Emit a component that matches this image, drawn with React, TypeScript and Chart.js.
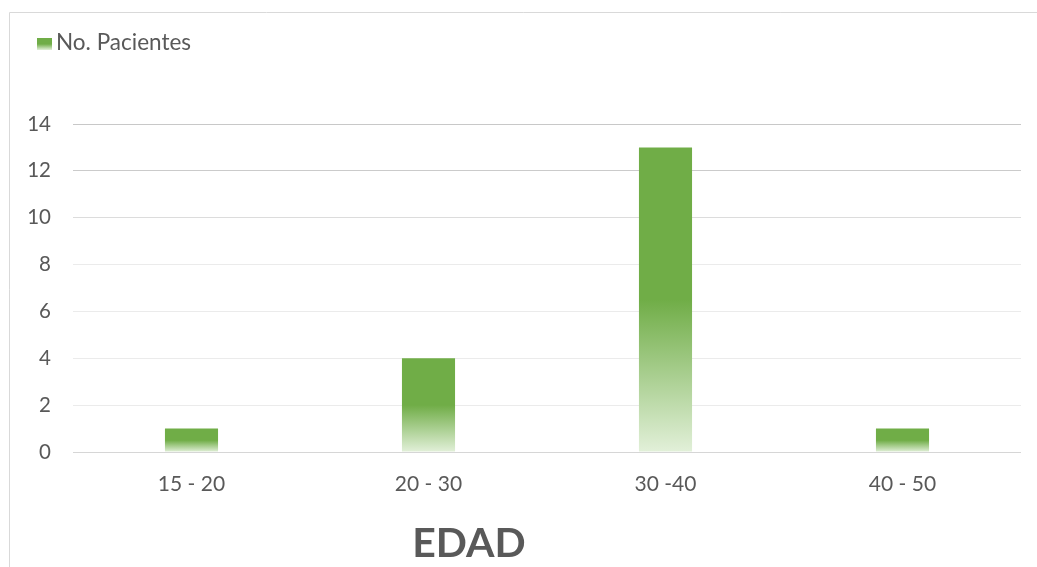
import { useEffect, useRef } from 'react';
import { Chart, registerables } from 'chart.js';

Chart.register(...registerables);

// Age groups and number of patients in each
const categories = ['15 - 20', '20 - 30', '30 -40', '40 - 50'];
const patients = [1, 4, 13, 1];
const seriesLabel = 'No. Pacientes';
const axisTitle = 'EDAD';
const yMin = 0;
const yMax = 14;
const yStep = 2;

const GREEN = '#70AD47';
const PALE = '#E2F0D9';
const TEXT = '#595959';
const FONT = 'Lato, "Open Sans", sans-serif';

// Solid green over the upper half of a bar, fading to pale green at its base
function fadeFill(ctx: CanvasRenderingContext2D, top: number, bottom: number) {
  const g = ctx.createLinearGradient(0, top, 0, bottom);
  g.addColorStop(0, GREEN);
  g.addColorStop(0.5, GREEN);
  g.addColorStop(1, PALE);
  return g;
}

const gridColor = (value: number) => {
  if (value === 14) return '#c8c8c8';
  if (value === 12) return '#cbcbcb';
  if (value === 10) return '#dcdcdc';
  if (value === 0) return '#d6d6d6';
  return '#ebebeb';
};

// Thin frame along the top and left edges
const framePlugin = {
  id: 'frame',
  beforeDraw(chart: any) {
    const { ctx, width, height } = chart;
    ctx.save();
    ctx.strokeStyle = '#d9d9d9';
    ctx.lineWidth = 1;
    ctx.beginPath();
    ctx.moveTo(9.5, height);
    ctx.lineTo(9.5, 12.5);
    ctx.lineTo(width, 12.5);
    ctx.stroke();
    ctx.restore();
  },
};

// Legend entry in the top-left corner and the category axis title below the labels
const decorPlugin = {
  id: 'decor',
  afterDraw(chart: any) {
    const { ctx } = chart;
    const ds = chart.data.datasets[0];
    ctx.save();
    ctx.fillStyle = fadeFill(ctx, 38, 50);
    ctx.fillRect(37, 38, 15, 12);
    ctx.fillStyle = TEXT;
    ctx.font = `22.5px ${FONT}`;
    ctx.textAlign = 'left';
    ctx.textBaseline = 'alphabetic';
    ctx.fillText(ds.label, 56, 50);

    ctx.font = `bold 41px ${FONT}`;
    ctx.textAlign = 'center';
    ctx.fillText(axisTitle, 469, 557);
    ctx.restore();
  },
};

export default function App() {
  const canvasRef = useRef<HTMLCanvasElement | null>(null);

  useEffect(() => {
    const canvas = canvasRef.current;
    if (!canvas) return;
    const chart = new Chart(canvas, {
      type: 'bar',
      data: {
        labels: categories,
        datasets: [
          {
            label: seriesLabel,
            data: patients,
            backgroundColor: (c: any) => {
              const ch = c.chart;
              if (!ch.chartArea || c.type !== 'data') return GREEN;
              const y = ch.scales.y;
              return fadeFill(ch.ctx, y.getPixelForValue(c.parsed.y), y.getPixelForValue(0));
            },
            borderWidth: 0,
            categoryPercentage: 1,
            barPercentage: 0.224,
          },
        ],
      },
      options: {
        responsive: false,
        animation: false,
        layout: { padding: { left: 11, right: 16, top: 124, bottom: 0 } },
        plugins: {
          legend: { display: false },
          tooltip: { enabled: false },
        },
        scales: {
          x: {
            grid: { display: false },
            border: { display: false },
            ticks: {
              color: TEXT,
              font: { family: FONT, size: 21 },
              padding: 12,
            },
            afterFit(scale: any) {
              scale.height = 115;
            },
          },
          y: {
            min: yMin,
            max: yMax,
            border: { display: false },
            grid: {
              color: (c: any) => gridColor(c.tick.value),
              lineWidth: 1,
              drawTicks: false,
            },
            ticks: {
              stepSize: yStep,
              color: TEXT,
              font: { family: FONT, size: 20.5 },
              padding: 22,
            },
            afterFit(scale: any) {
              scale.width = 62;
            },
          },
        },
      },
      plugins: [framePlugin, decorPlugin],
    });
    return () => chart.destroy();
  }, []);

  return (
    <div style={{ position: 'absolute', left: 0, top: 0, width: 1037, height: 567, background: '#fff' }}>
      <canvas ref={canvasRef} width={1037} height={567} />
    </div>
  );
}
